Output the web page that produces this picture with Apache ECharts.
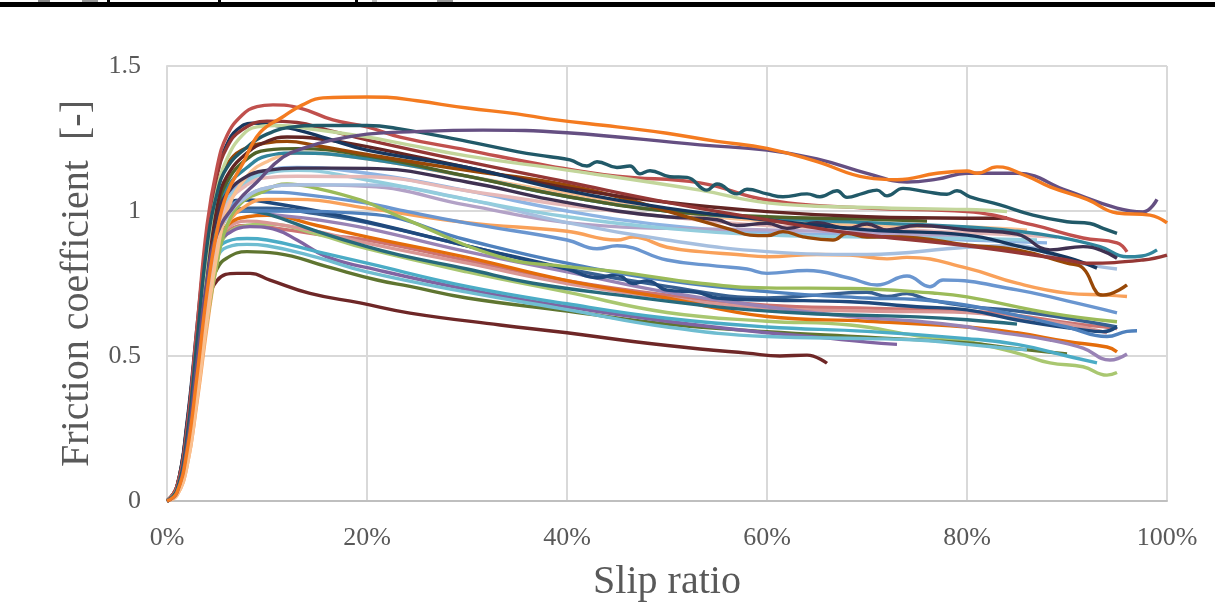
<!DOCTYPE html>
<html><head><meta charset="utf-8">
<script src="https://cdn.jsdelivr.net/npm/echarts@6/dist/echarts.min.js"></script>
<style>html,body{margin:0;padding:0;background:#fff}#c{width:1215px;height:603px}</style>
</head><body><div id="c"></div>
<script>
// Axis tick values
const xTicks = [0, 0.2, 0.4, 0.6, 0.8, 1.0];
const yTicks = [0, 0.5, 1, 1.5];
const xTitle = 'Slip ratio';
const yTitle = 'Friction coefficient  [-]';

// Series data: [slip ratio, friction coefficient]
const s01 = [[0,0],[0.01,0.03],[0.02,0.17],[0.03,0.43],[0.04,0.72],[0.05,0.93],[0.06,1.06],[0.076,1.165],[0.093,1.27],[0.116,1.325],[0.135,1.365],[0.156,1.39],[0.2,1.393],[0.22,1.392],[0.25,1.38],[0.3,1.355],[0.35,1.335],[0.383,1.317],[0.45,1.29],[0.5,1.268],[0.55,1.24],[0.6,1.216],[0.65,1.17],[0.7,1.115],[0.73,1.108],[0.77,1.13],[0.8,1.138],[0.81,1.13],[0.83,1.152],[0.86,1.12],[0.883,1.083],[0.92,1.04],[0.95,0.993],[0.983,0.986],[1.0,0.959]];
const s02 = [[0,0],[0.01,0.03],[0.02,0.19],[0.03,0.48],[0.04,0.76],[0.05,0.92],[0.07,1.03],[0.09,1.1],[0.116,1.186],[0.14,1.22],[0.166,1.245],[0.2,1.265],[0.233,1.272],[0.316,1.279],[0.4,1.27],[0.533,1.228],[0.6,1.21],[0.65,1.18],[0.7,1.13],[0.74,1.1],[0.77,1.11],[0.8,1.13],[0.85,1.13],[0.9,1.07],[0.95,1.01],[0.976,0.997],[0.99,1.04]];
const s03 = [[0,0],[0.01,0.04],[0.02,0.22],[0.03,0.55],[0.04,0.88],[0.05,1.06],[0.06,1.15],[0.08,1.22],[0.1,1.265],[0.126,1.29],[0.15,1.295],[0.2,1.295],[0.233,1.283],[0.3,1.24],[0.35,1.205],[0.383,1.187],[0.403,1.176],[0.42,1.155],[0.43,1.17],[0.45,1.15],[0.463,1.155],[0.473,1.128],[0.483,1.139],[0.503,1.118],[0.52,1.116],[0.54,1.072],[0.55,1.093],[0.57,1.059],[0.58,1.075],[0.6,1.059],[0.616,1.049],[0.64,1.059],[0.653,1.049],[0.67,1.07],[0.68,1.047],[0.696,1.061],[0.71,1.072],[0.72,1.052],[0.736,1.078],[0.76,1.066],[0.78,1.058],[0.79,1.07],[0.803,1.049],[0.833,1.021],[0.866,0.986],[0.9,0.963],[0.923,0.957],[0.936,0.94],[0.95,0.923]];
const s04 = [[0,0],[0.01,0.04],[0.02,0.2],[0.03,0.52],[0.04,0.86],[0.05,1.07],[0.06,1.18],[0.075,1.26],[0.09,1.29],[0.11,1.295],[0.15,1.28],[0.2,1.255],[0.233,1.234],[0.3,1.19],[0.4,1.141],[0.533,1.072],[0.6,1.028],[0.7,1.012],[0.8,1.005],[0.84,0.998]];
const s05 = [[0,0],[0.01,0.05],[0.02,0.25],[0.03,0.6],[0.04,0.95],[0.05,1.15],[0.06,1.26],[0.075,1.33],[0.09,1.36],[0.106,1.366],[0.133,1.355],[0.166,1.314],[0.2,1.29],[0.233,1.255],[0.3,1.21],[0.383,1.155],[0.45,1.12],[0.533,1.097],[0.6,1.038],[0.7,1.01],[0.8,0.998],[0.866,0.952],[0.916,0.907],[0.95,0.89],[0.96,0.859]];
const s06 = [[0,0],[0.01,0.05],[0.02,0.24],[0.03,0.58],[0.04,0.92],[0.05,1.12],[0.06,1.22],[0.075,1.28],[0.1,1.31],[0.13,1.305],[0.16,1.28],[0.2,1.245],[0.3,1.17],[0.4,1.1],[0.5,1.03],[0.6,0.97],[0.683,0.924],[0.8,0.88],[0.9,0.831],[0.92,0.82],[0.976,0.831],[1.0,0.848]];
const s07 = [[0,0],[0.01,0.05],[0.02,0.27],[0.03,0.6],[0.036,0.8],[0.043,0.99],[0.05,1.13],[0.06,1.23],[0.07,1.28],[0.085,1.303],[0.1,1.3],[0.13,1.28],[0.16,1.25],[0.2,1.21],[0.3,1.15],[0.4,1.07],[0.5,1.01],[0.6,0.969],[0.7,0.935],[0.8,0.917],[0.85,0.88],[0.9,0.84],[0.93,0.803]];
const s08 = [[0,0],[0.01,0.04],[0.02,0.22],[0.03,0.52],[0.04,0.84],[0.05,1.02],[0.06,1.12],[0.08,1.2],[0.1,1.24],[0.12,1.255],[0.15,1.25],[0.2,1.222],[0.3,1.15],[0.4,1.08],[0.5,1.03],[0.6,0.998],[0.7,0.98],[0.8,0.975],[0.84,0.976]];
const s09 = [[0,0],[0.01,0.05],[0.02,0.26],[0.03,0.58],[0.04,0.9],[0.05,1.08],[0.06,1.16],[0.075,1.21],[0.1,1.235],[0.12,1.24],[0.15,1.225],[0.2,1.195],[0.3,1.14],[0.383,1.1],[0.45,1.05],[0.5,1.0],[0.54,0.96],[0.566,0.934],[0.583,0.917],[0.6,0.915],[0.616,0.929],[0.636,0.911],[0.666,0.9],[0.68,0.923],[0.7,0.91],[0.716,0.911],[0.75,0.907],[0.8,0.883],[0.85,0.866],[0.9,0.82],[0.916,0.803],[0.93,0.717],[0.936,0.71],[0.96,0.745]];
const s10 = [[0,0],[0.01,0.04],[0.02,0.22],[0.03,0.52],[0.04,0.82],[0.05,0.98],[0.06,1.06],[0.08,1.12],[0.1,1.14],[0.13,1.148],[0.2,1.147],[0.3,1.1],[0.383,1.04],[0.45,1.0],[0.5,0.98],[0.55,0.97],[0.57,0.95],[0.6,0.958],[0.62,0.94],[0.65,0.96],[0.68,0.94],[0.7,0.955],[0.72,0.935],[0.75,0.95],[0.8,0.935],[0.85,0.92],[0.883,0.866],[0.916,0.877],[0.933,0.866],[0.95,0.837]];
const s11 = [[0,0],[0.01,0.04],[0.02,0.2],[0.03,0.5],[0.04,0.8],[0.05,1.0],[0.06,1.1],[0.08,1.18],[0.1,1.21],[0.13,1.215],[0.2,1.19],[0.3,1.12],[0.4,1.05],[0.5,1.0],[0.6,0.98],[0.7,0.972],[0.76,0.965]];
const s12 = [[0,0],[0.01,0.04],[0.02,0.2],[0.03,0.5],[0.04,0.8],[0.05,0.98],[0.06,1.08],[0.08,1.15],[0.1,1.19],[0.13,1.2],[0.2,1.18],[0.3,1.12],[0.4,1.05],[0.5,1.0],[0.6,0.975],[0.7,0.96],[0.8,0.945],[0.85,0.93],[0.89,0.911],[0.933,0.877],[0.96,0.842],[0.975,0.845],[0.99,0.866]];
const s13 = [[0,0],[0.01,0.02],[0.02,0.12],[0.03,0.35],[0.04,0.62],[0.05,0.85],[0.06,1.0],[0.08,1.12],[0.1,1.17],[0.13,1.2],[0.2,1.18],[0.3,1.12],[0.4,1.06],[0.5,1.0],[0.6,0.965],[0.7,0.95],[0.8,0.945],[0.86,0.934]];
const s14 = [[0,0],[0.01,0.03],[0.02,0.16],[0.03,0.42],[0.04,0.7],[0.05,0.9],[0.06,1.02],[0.08,1.09],[0.1,1.115],[0.13,1.12],[0.2,1.118],[0.3,1.07],[0.4,1.02],[0.5,0.98],[0.6,0.95],[0.7,0.94],[0.8,0.925],[0.89,0.91]];
const s15 = [[0,0],[0.01,0.03],[0.02,0.16],[0.03,0.42],[0.04,0.72],[0.05,0.92],[0.06,1.03],[0.08,1.1],[0.1,1.13],[0.13,1.14],[0.2,1.107],[0.3,1.04],[0.4,0.98],[0.5,0.94],[0.6,0.917],[0.7,0.91],[0.8,0.905],[0.87,0.9]];
const s16 = [[0,0],[0.01,0.03],[0.02,0.15],[0.03,0.4],[0.04,0.68],[0.05,0.88],[0.06,0.98],[0.08,1.05],[0.1,1.08],[0.13,1.09],[0.2,1.09],[0.3,1.04],[0.4,0.96],[0.5,0.9],[0.6,0.86],[0.7,0.85],[0.8,0.875],[0.85,0.88],[0.9,0.83],[0.95,0.8]];
const s17 = [[0,0],[0.01,0.03],[0.02,0.15],[0.03,0.4],[0.04,0.68],[0.05,0.88],[0.06,0.98],[0.08,1.05],[0.1,1.08],[0.13,1.09],[0.2,1.085],[0.3,1.02],[0.4,0.96],[0.5,0.94],[0.6,0.935],[0.7,0.925],[0.8,0.91]];
const s18 = [[0,0],[0.01,0.03],[0.02,0.14],[0.03,0.38],[0.04,0.62],[0.05,0.82],[0.06,0.95],[0.075,1.03],[0.093,1.062],[0.12,1.093],[0.143,1.083],[0.193,1.038],[0.233,0.98],[0.333,0.842],[0.4,0.808],[0.45,0.791],[0.533,0.751],[0.6,0.735],[0.683,0.733],[0.766,0.717],[0.8,0.704],[0.883,0.648],[0.95,0.618]];
const s19 = [[0,0],[0.01,0.03],[0.02,0.16],[0.03,0.42],[0.04,0.7],[0.05,0.9],[0.06,1.0],[0.08,1.05],[0.1,1.065],[0.13,1.06],[0.2,1.027],[0.233,1.003],[0.3,0.958],[0.4,0.9],[0.43,0.87],[0.45,0.88],[0.5,0.831],[0.55,0.81],[0.58,0.8],[0.6,0.785],[0.64,0.795],[0.683,0.768],[0.71,0.745],[0.74,0.776],[0.763,0.739],[0.776,0.762],[0.85,0.728],[0.9,0.69],[0.95,0.649]];
const s20 = [[0,0],[0.01,0.02],[0.02,0.12],[0.03,0.34],[0.04,0.6],[0.05,0.82],[0.06,0.95],[0.08,1.02],[0.1,1.04],[0.13,1.04],[0.2,1.01],[0.3,0.96],[0.4,0.93],[0.45,0.9],[0.466,0.91],[0.5,0.875],[0.533,0.86],[0.57,0.85],[0.6,0.842],[0.65,0.85],[0.683,0.848],[0.72,0.835],[0.74,0.84],[0.8,0.803],[0.85,0.751],[0.9,0.717],[0.94,0.71],[0.96,0.705]];
const s21 = [[0,0],[0.01,0.04],[0.02,0.2],[0.03,0.5],[0.04,0.78],[0.05,0.93],[0.06,0.98],[0.08,1.0],[0.1,1.0],[0.2,0.99],[0.3,0.9],[0.4,0.82],[0.5,0.76],[0.6,0.722],[0.7,0.7],[0.75,0.695],[0.8,0.675],[0.85,0.64],[0.9,0.6],[0.94,0.567],[0.96,0.585],[0.97,0.587]];
const s22 = [[0,0],[0.01,0.05],[0.02,0.26],[0.03,0.58],[0.04,0.88],[0.05,1.0],[0.06,1.03],[0.08,1.038],[0.1,1.03],[0.15,1.0],[0.2,0.963],[0.3,0.88],[0.4,0.8],[0.43,0.77],[0.45,0.78],[0.466,0.75],[0.48,0.76],[0.5,0.727],[0.53,0.72],[0.55,0.7],[0.6,0.693],[0.683,0.687],[0.75,0.67],[0.8,0.659],[0.85,0.624],[0.916,0.59],[0.936,0.584],[0.95,0.601]];
const s23 = [[0,0],[0.01,0.04],[0.02,0.22],[0.03,0.52],[0.04,0.8],[0.05,0.94],[0.06,0.99],[0.08,1.0],[0.1,0.99],[0.15,0.93],[0.2,0.877],[0.233,0.848],[0.3,0.8],[0.366,0.751],[0.466,0.704],[0.533,0.676],[0.58,0.66],[0.65,0.645],[0.7,0.64],[0.75,0.635],[0.8,0.625],[0.85,0.61]];
const s24 = [[0,0],[0.01,0.04],[0.02,0.2],[0.03,0.5],[0.04,0.78],[0.05,0.93],[0.06,0.98],[0.08,1.0],[0.1,0.99],[0.15,0.97],[0.2,0.94],[0.3,0.86],[0.4,0.79],[0.5,0.72],[0.6,0.67],[0.683,0.636],[0.75,0.62],[0.8,0.601],[0.816,0.59],[0.883,0.555],[0.916,0.527],[0.943,0.486],[0.96,0.507]];
const s25 = [[0,0],[0.01,0.03],[0.02,0.16],[0.03,0.42],[0.04,0.7],[0.05,0.88],[0.06,0.95],[0.08,0.98],[0.1,0.985],[0.15,0.95],[0.2,0.911],[0.3,0.84],[0.4,0.76],[0.5,0.7],[0.6,0.636],[0.7,0.62],[0.8,0.6],[0.85,0.58],[0.9,0.55],[0.94,0.531],[0.95,0.514]];
const s26 = [[0,0],[0.01,0.03],[0.02,0.16],[0.03,0.42],[0.04,0.7],[0.05,0.88],[0.06,0.94],[0.08,0.965],[0.1,0.96],[0.15,0.93],[0.2,0.889],[0.3,0.82],[0.4,0.75],[0.5,0.7],[0.6,0.665],[0.7,0.655],[0.8,0.65],[0.85,0.63],[0.9,0.61],[0.94,0.58]];
const s27 = [[0,0],[0.01,0.04],[0.02,0.22],[0.03,0.52],[0.04,0.76],[0.05,0.86],[0.06,0.895],[0.08,0.905],[0.1,0.9],[0.15,0.86],[0.2,0.82],[0.3,0.74],[0.4,0.68],[0.5,0.63],[0.6,0.6],[0.7,0.585],[0.8,0.56],[0.85,0.54],[0.9,0.5],[0.93,0.476]];
const s28 = [[0,0],[0.01,0.04],[0.02,0.2],[0.03,0.5],[0.04,0.74],[0.05,0.84],[0.06,0.875],[0.08,0.885],[0.1,0.88],[0.15,0.84],[0.2,0.79],[0.3,0.72],[0.4,0.66],[0.5,0.6],[0.6,0.567],[0.7,0.56],[0.75,0.555],[0.8,0.54],[0.83,0.53],[0.86,0.521]];
const s29 = [[0,0],[0.01,0.03],[0.02,0.17],[0.03,0.44],[0.04,0.72],[0.05,0.87],[0.06,0.92],[0.083,0.946],[0.11,0.934],[0.13,0.9],[0.16,0.842],[0.21,0.797],[0.3,0.73],[0.4,0.67],[0.5,0.62],[0.6,0.58],[0.65,0.565],[0.7,0.548],[0.73,0.54]];
const s30 = [[0,0],[0.01,0.04],[0.02,0.2],[0.03,0.48],[0.04,0.7],[0.05,0.8],[0.06,0.838],[0.08,0.86],[0.11,0.854],[0.16,0.808],[0.21,0.762],[0.243,0.74],[0.3,0.7],[0.4,0.655],[0.5,0.61],[0.6,0.584],[0.7,0.565],[0.8,0.545],[0.85,0.525],[0.9,0.507]];
const s31 = [[0,0],[0.01,0.04],[0.02,0.2],[0.03,0.46],[0.04,0.66],[0.05,0.76],[0.07,0.785],[0.083,0.785],[0.103,0.762],[0.143,0.716],[0.193,0.683],[0.243,0.648],[0.333,0.607],[0.4,0.58],[0.466,0.55],[0.533,0.524],[0.58,0.51],[0.613,0.5],[0.64,0.503],[0.66,0.475]];
const s32 = [[0,0],[0.01,0.03],[0.02,0.15],[0.03,0.4],[0.04,0.66],[0.05,0.84],[0.06,0.92],[0.08,0.95],[0.1,0.955],[0.15,0.92],[0.2,0.87],[0.3,0.79],[0.4,0.72],[0.5,0.65],[0.6,0.62],[0.683,0.607],[0.75,0.57],[0.8,0.55],[0.85,0.51],[0.883,0.476],[0.916,0.463],[0.94,0.434],[0.95,0.443]];
const s33 = [[0,0],[0.01,0.04],[0.02,0.2],[0.03,0.5],[0.04,0.78],[0.05,0.92],[0.06,0.98],[0.08,1.01],[0.1,1.01],[0.15,0.99],[0.2,0.96],[0.3,0.88],[0.4,0.8],[0.5,0.74],[0.6,0.7],[0.65,0.71],[0.7,0.72],[0.72,0.705],[0.74,0.715],[0.76,0.695],[0.8,0.672],[0.85,0.655],[0.9,0.63],[0.95,0.6]];
const s34 = [[0,0],[0.01,0.03],[0.02,0.17],[0.03,0.44],[0.04,0.72],[0.05,0.88],[0.06,0.93],[0.08,0.95],[0.1,0.945],[0.15,0.92],[0.2,0.9],[0.3,0.83],[0.4,0.76],[0.5,0.71],[0.6,0.675],[0.7,0.665],[0.8,0.655],[0.85,0.64],[0.9,0.615],[0.95,0.595]];
const s35 = [[0,0],[0.01,0.04],[0.02,0.2],[0.03,0.5],[0.04,0.78],[0.05,0.95],[0.06,1.05],[0.08,1.11],[0.1,1.14],[0.13,1.15],[0.2,1.13],[0.3,1.07],[0.4,1.0],[0.5,0.95],[0.6,0.925],[0.7,0.915],[0.8,0.9],[0.88,0.89]];

const seriesData = [s35,s34,s33,s32,s31,s30,s29,s28,s27,s26,s25,s24,s23,s22,s21,s20,s19,s18,s17,s16,s15,s14,s13,s12,s11,s10,s09,s08,s07,s06,s05,s04,s03,s02,s01];
const seriesColors = ['#8EB4E3','#CD7371','#376092','#A9C770','#6E2727','#5F7530','#8064A2','#6FBDD1','#4BACC6','#D99694','#E46C0A','#9983B5','#276A7C','#1F497D','#4F81BD','#F9A15A','#6A96D0','#9BBB59','#B3A2C7','#A6BFDF','#93CDDD','#E6B9B8','#FAC090','#31859C','#4F6228','#3F3151','#984807','#632523','#17375E','#953735','#C0504D','#C3D69B','#215968','#654F82','#F47B20'];

const chart = echarts.init(document.getElementById('c'), null, {renderer:'canvas'});
const font = '"Liberation Serif", "Times New Roman", serif';
chart.setOption({
  animation: false,
  backgroundColor: '#fff',
  grid: {left: 167, right: 48, top: 66, bottom: 102, containLabel: false, outerBoundsMode: 'none'},
  xAxis: {
    type: 'value', min: xTicks[0], max: xTicks[xTicks.length-1], interval: 0.2,
    name: xTitle, nameLocation: 'middle', nameGap: 61,
    nameTextStyle: {fontFamily: font, fontSize: 40, color: '#595959', verticalAlign: 'top'},
    axisLine: {show: true, lineStyle: {color: '#BFBFBF', width: 2}},
    axisTick: {show: false},
    axisLabel: {fontFamily: font, fontSize: 26, color: '#595959', margin: 24,
      formatter: v => Math.round(v*100) + '%'},
    splitLine: {show: true, lineStyle: {color: '#D9D9D9', width: 2}}
  },
  yAxis: {
    type: 'value', min: yTicks[0], max: yTicks[yTicks.length-1], interval: 0.5,
    name: yTitle, nameLocation: 'middle', nameGap: 66, nameRotate: 90,
    nameTextStyle: {fontFamily: font, fontSize: 40, color: '#595959'},
    axisLine: {show: true, lineStyle: {color: '#D9D9D9', width: 2}},
    axisTick: {show: false},
    axisLabel: {fontFamily: font, fontSize: 26, color: '#595959', margin: 26},
    splitLine: {show: true, lineStyle: {color: '#D9D9D9', width: 2}}
  },
  graphic: [
    {type: 'rect', left: 0, top: 2, shape: {width: 1215, height: 5}, style: {fill: '#000'}},
    {type: 'rect', left: 38, top: 0, shape: {width: 12, height: 2}, style: {fill: '#888'}},
    {type: 'rect', left: 82, top: 0, shape: {width: 16, height: 2}, style: {fill: '#999'}},
    {type: 'rect', left: 107, top: 0, shape: {width: 3, height: 2}, style: {fill: '#000'}},
    {type: 'rect', left: 218, top: 0, shape: {width: 3, height: 2}, style: {fill: '#000'}},
    {type: 'rect', left: 355, top: 0, shape: {width: 3, height: 2}, style: {fill: '#000'}},
    {type: 'rect', left: 372, top: 0, shape: {width: 5, height: 2}, style: {fill: '#bbb'}},
    {type: 'rect', left: 437, top: 0, shape: {width: 16, height: 2}, style: {fill: '#999'}}
  ],
  series: seriesData.map((d, i) => ({
    type: 'line', data: d, showSymbol: false, symbol: 'none',
    smooth: 0.45,
    lineStyle: {width: 3.4, color: seriesColors[i]},
    itemStyle: {color: seriesColors[i]},
    z: 2 + i
  }))
});
</script></body></html>
